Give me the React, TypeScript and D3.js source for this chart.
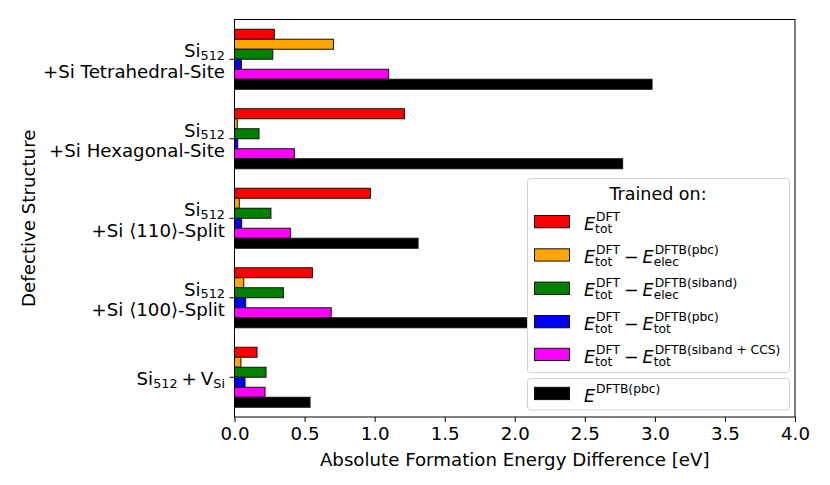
import { useRef, useEffect } from 'react';
import * as d3 from 'd3';

// defect structures, top to bottom
const categories = ['tetrahedral', 'hexagonal', 'split110', 'split100', 'vacancy'];
const labelLine2 = ['+Si Tetrahedral-Site', '+Si Hexagonal-Site', '+Si \u27E8110\u27E9-Split', '+Si \u27E8100\u27E9-Split', ''];

// absolute formation energy differences [eV]
const eTotDFT = [0.284, 1.213, 0.97, 0.556, 0.161];
const eTotMinusElecPbc = [0.706, 0.02, 0.034, 0.066, 0.046];
const eTotMinusElecSiband = [0.273, 0.175, 0.26, 0.349, 0.225];
const eTotMinusTotPbc = [0.049, 0.023, 0.051, 0.08, 0.075];
const eTotMinusTotSibandCCS = [1.1, 0.427, 0.399, 0.69, 0.218];
const eDFTBpbc = [2.98, 2.77, 1.31, 2.45, 0.539];

const seriesKeys = ['dft', 'elecPbc', 'elecSiband', 'totPbc', 'totCCS', 'dftbPbc'];
const seriesValues = [eTotDFT, eTotMinusElecPbc, eTotMinusElecSiband, eTotMinusTotPbc, eTotMinusTotSibandCCS, eDFTBpbc];
const seriesColors = ['#ff0000', '#ffa500', '#008000', '#0000ff', '#ff00ff', '#000000'];

// legend math: [base, sup, sub] terms joined by minus
const legendTerms = [
    [['E', 'DFT', 'tot']],
    [['E', 'DFT', 'tot'], ['E', 'DFTB(pbc)', 'elec']],
    [['E', 'DFT', 'tot'], ['E', 'DFTB(siband)', 'elec']],
    [['E', 'DFT', 'tot'], ['E', 'DFTB(pbc)', 'tot']],
    [['E', 'DFT', 'tot'], ['E', 'DFTB(siband + CCS)', 'tot']],
    [['E', 'DFTB(pbc)', '']],
];

const xTicks = [0, 0.5, 1, 1.5, 2, 2.5, 3, 3.5, 4];

const FONT = 'DejaVu Sans';
const FS = 17.5;
const LFS = 18.2;
const SFS = 12.3;

const App = () => {
    const ref = useRef(null);

    useEffect(() => {
        const svg = d3.select(ref.current);
        svg.selectAll('*').remove();
        svg.attr('font-family', FONT);

        const left = 234.5, right = 795, top = 19.5, bottom = 417;

        const x = d3.scaleLinear().domain([0, 4]).range([left, right]);
        const y = d3.scaleBand().domain(categories).range([top, bottom]).padding(0);
        const inner = d3.scaleBand().domain(seriesKeys).range([-30, 30]);

        const txt = (g, tx, ty, s, size, italic = false) => {
            const t = g.append('text')
                .attr('x', tx).attr('y', ty)
                .attr('font-size', size)
                .attr('font-style', italic ? 'italic' : 'normal')
                .attr('fill', '#000')
                .text(s);
            return t.node().getComputedTextLength();
        };

        // bars
        const bars = svg.append('g');
        seriesKeys.forEach((k, si) => {
            bars.selectAll(null)
                .data(categories)
                .enter().append('rect')
                .attr('x', x(0))
                .attr('y', (c) => y(c) + y.bandwidth() / 2 + inner(k))
                .attr('width', (c, i) => x(seriesValues[si][i]) - x(0))
                .attr('height', inner.bandwidth())
                .attr('fill', seriesColors[si])
                .attr('stroke', '#111')
                .attr('stroke-width', 1);
        });

        // x axis
        const xa = svg.append('g')
            .attr('transform', `translate(0,${bottom})`)
            .call(d3.axisBottom(x).tickValues(xTicks).tickFormat(d3.format('.1f')).tickSize(5).tickPadding(5));
        xa.select('.domain').remove();
        xa.selectAll('text').attr('font-size', LFS).attr('font-family', FONT).attr('fill', '#000');
        xa.selectAll('line').attr('stroke', '#000');

        // y axis ticks
        const ya = svg.append('g')
            .attr('transform', `translate(${left},0)`)
            .call(d3.axisLeft(y).tickSize(5).tickFormat(() => ''));
        ya.select('.domain').remove();
        ya.selectAll('line').attr('stroke', '#000');

        // y tick labels
        const yl = svg.append('g');
        categories.forEach((c, i) => {
            const cy = y(c) + y.bandwidth() / 2;
            const g = yl.append('g');
            if (labelLine2[i]) {
                const w1 = txt(g, 0, cy - 2, 'Si', LFS);
                const w2 = txt(g, w1, cy + 0.5, '512', 12.8);
                g.selectAll('text').attr('transform', `translate(${225 - w1 - w2},0)`);
                yl.append('text')
                    .attr('x', 225).attr('y', cy + 18.5)
                    .attr('text-anchor', 'end').attr('font-size', LFS)
                    .text(labelLine2[i]);
            } else {
                let cx = 0;
                cx += txt(g, cx, cy + 8, 'Si', LFS);
                cx += txt(g, cx, cy + 10.5, '512', 12.8);
                cx += 4;
                cx += txt(g, cx, cy + 8, '+', LFS);
                cx += 4;
                cx += txt(g, cx, cy + 8, 'V', LFS);
                cx += txt(g, cx, cy + 10.5, 'Si', 12.8);
                g.selectAll('text').attr('transform', `translate(${225 - cx},0)`);
            }
        });

        // frame
        svg.append('rect')
            .attr('x', left).attr('y', top)
            .attr('width', right - left).attr('height', bottom - top)
            .attr('fill', 'none').attr('stroke', '#000').attr('stroke-width', 1);

        // axis labels
        svg.append('text')
            .attr('x', (left + right) / 2).attr('y', 466)
            .attr('text-anchor', 'middle').attr('font-size', LFS)
            .text('Absolute Formation Energy Difference [eV]');
        svg.append('text')
            .attr('transform', `translate(35,${(top + bottom) / 2}) rotate(-90)`)
            .attr('text-anchor', 'middle').attr('font-size', LFS)
            .text('Defective Structure');

        // legend
        const lg = svg.append('g');
        lg.append('rect')
            .attr('x', 527.5).attr('y', 178.5).attr('width', 262).attr('height', 194)
            .attr('rx', 3).attr('fill', '#fff').attr('stroke', '#d3d3d3');
        lg.append('rect')
            .attr('x', 527.5).attr('y', 378.5).attr('width', 262).attr('height', 31.5)
            .attr('rx', 3).attr('fill', '#fff').attr('stroke', '#d3d3d3');
        lg.append('text')
            .attr('x', 658).attr('y', 199.5)
            .attr('text-anchor', 'middle').attr('font-size', FS)
            .text('Trained on:');

        const rowY = [221.7, 255, 288.3, 321.7, 354.5, 393.5];
        seriesKeys.forEach((k, si) => {
            const cy = rowY[si];
            lg.append('rect')
                .attr('x', 534.5).attr('y', cy - 6.2).attr('width', 35).attr('height', 12.3)
                .attr('fill', seriesColors[si]).attr('stroke', '#111').attr('stroke-width', 1);
            const g = lg.append('g');
            let cx = 584;
            legendTerms[si].forEach((term, ti) => {
                if (ti > 0) {
                    cx += 4;
                    cx += txt(g, cx, cy + 8, '\u2212', FS);
                    cx += 4;
                }
                cx += txt(g, cx, cy + 8, term[0], FS, true);
                const ws = txt(g, cx + 1, cy - 1, term[1], SFS);
                const wb = term[2] ? txt(g, cx, cy + 11, term[2], SFS) : 0;
                cx += Math.max(ws + 1, wb);
            });
        });
    }, []);

    return (
        <svg
            ref={ref}
            width={830}
            height={485}
            style={{ position: 'absolute', left: 0, top: 0, background: '#fff' }}
        ></svg>
    );
};

export default App;
